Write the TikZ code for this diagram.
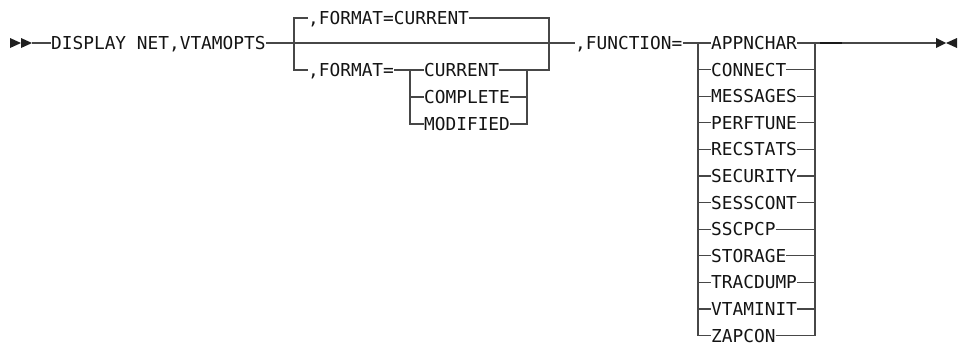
\documentclass[tikz,border=0pt]{standalone}
\usepackage{fontspec}
\newfontfamily\synfont{DejaVu Sans Mono}
\tikzset{
  kw/.style={anchor=west,inner sep=0pt,text height=13pt,text depth=0pt,
    font=\synfont\fontsize{17.8}{20}\selectfont,text=black!92},
  rail/.style={line width=1.2pt,draw=black!72},
}
\begin{document}
\begin{tikzpicture}[x=1pt,y=-1pt]
\useasboundingbox (0,0) rectangle (964,346);
% start of statement
\fill[black!88] (10,38) -- (21,43) -- (10,48) -- cycle (21,38) -- (32,43) -- (21,48) -- cycle;
\coordinate (start) at (32,43);
\node[kw] (cmd) at (51,43) {DISPLAY NET,VTAMOPTS};
\node[kw] (fn) at (575,43) {,FUNCTION=};
\coordinate (fsplit) at (294,43);
\coordinate (fjoin) at (549,43);
\draw[rail] (start) -- (cmd.west) (cmd.east) -- (fn.west);
% FORMAT, default above the line
\node[kw] (fmtdef) at (308,18) {,FORMAT=CURRENT};
\node[kw] (fmt) at (308,70) {,FORMAT=};
\draw[rail] (fsplit) |- (fmtdef.west) (fmtdef.east) -| (fjoin);
\draw[rail] (fsplit) |- (fmt.west);
\coordinate (isplit) at (410,70);
\coordinate (ijoin) at (527,70);
\node[kw] (cur) at (424,70) {CURRENT};
\node[kw] (cpl) at (424,97) {COMPLETE};
\node[kw] (mod) at (424,124) {MODIFIED};
\draw[rail] (fmt.east) -- (isplit) -- (cur.west) (cur.east) -| (fjoin);
\draw[rail] (isplit) |- (cpl.west) (cpl.east) -| (ijoin);
\draw[rail] (isplit) |- (mod.west) (mod.east) -| (ijoin);
% FUNCTION choices
\coordinate (gsplit) at (698,43);
\coordinate (gjoin) at (815,43);
\draw[rail] (fn.east) -- (gsplit);
\foreach \f [count=\i from 0] in {APPNCHAR,CONNECT,MESSAGES,PERFTUNE,RECSTATS,SECURITY,SESSCONT,SSCPCP,STORAGE,TRACDUMP,VTAMINIT,ZAPCON} {
  \node[kw] (f\i) at (711,{43+26.6*\i}) {\f};
  \draw[rail] (gsplit) |- (f\i.west) (f\i.east) -| (gjoin);
}
% end of statement
\coordinate (stop) at (936,43);
\draw[rail] (gjoin) -- (stop);
\draw[line width=2.2pt,black!90] (820,43) -- (842,43);
\fill[black!88] (936,38) -- (946,43) -- (936,48) -- cycle (957,38) -- (946,43) -- (957,48) -- cycle;
\end{tikzpicture}
\end{document}
